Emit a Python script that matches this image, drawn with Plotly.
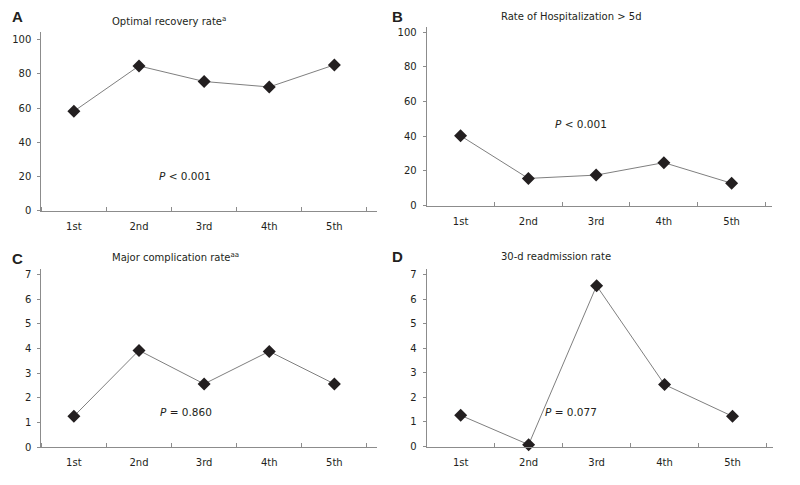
import plotly.graph_objects as go

categories = ["1st", "2nd", "3rd", "4th", "5th"]
optimal_recovery = [58.1, 84.6, 75.5, 72.3, 85.2]
hospitalization_gt5d = [40.3, 15.7, 17.6, 24.8, 12.9]
major_complication = [1.25, 3.92, 2.56, 3.88, 2.56]
readmission_30d = [1.27, 0.08, 6.54, 2.52, 1.23]

panel_letters = ["A", "B", "C", "D"]
panel_titles = ["Optimal recovery rate<sup>a</sup>", "Rate of Hospitalization &gt; 5d",
                "Major complication rate<sup>aa</sup>", "30-d readmission rate"]
p_texts = ["<i>P</i> &lt; 0.001", "<i>P</i> &lt; 0.001", "<i>P</i> = 0.860", "<i>P</i> = 0.077"]
yticks_pct = [0, 20, 40, 60, 80, 100]
yticks_cnt = [0, 1, 2, 3, 4, 5, 6, 7]

W, H = 800, 485
OFF = 8  # page body margin
FONT = "DejaVu Sans"
TXT = "#231f20"
AX = "#8c8c8c"

def px(x):
    return (x - OFF) / W

def py(y):
    return 1 - (y - OFF) / H

panels = [
    dict(y=optimal_recovery, ticks=yticks_pct, yr=[0, 104.2], xd=(41.3, 376.7), yd=(31.7, 212.7), xmax=4.65,
         title=(169.4, 20), letter=(17, 16), p=(185, 177.7)),
    dict(y=hospitalization_gt5d, ticks=yticks_pct, yr=[0, 102.8], xd=(426.7, 772.3), yd=(26.7, 207.5), xmax=4.6,
         title=(570.8, 16), letter=(397, 16), p=(581, 124.3)),
    dict(y=major_complication, ticks=yticks_cnt, yr=[0, 7.2], xd=(41.3, 376.7), yd=(272.3, 452.5), xmax=4.65,
         title=(175, 259.3), letter=(17, 261), p=(185.5, 417.3)),
    dict(y=readmission_30d, ticks=yticks_cnt, yr=[0, 7.2], xd=(426.7, 773.3), yd=(272.3, 452), xmax=4.6,
         title=(556, 259.3), letter=(397, 259), p=(571, 416.7)),
]

fig = go.Figure()
xs = list(range(len(categories)))
annotations = []
for i, pnl in enumerate(panels):
    n = "" if i == 0 else str(i + 1)
    fig.add_trace(go.Scatter(
        x=xs, y=pnl["y"], mode="lines+markers",
        line=dict(color="#7f7f7f", width=1),
        marker=dict(symbol="diamond", size=10, color="#231f20", line=dict(width=0)),
        xaxis="x" + n, yaxis="y" + n, showlegend=False, cliponaxis=False,
    ))
    fig.update_layout(**{
        "xaxis" + n: dict(
            domain=[px(pnl["xd"][0]), px(pnl["xd"][1])], anchor="y" + n,
            range=[-0.5, pnl["xmax"]], tickvals=xs, ticktext=categories, ticks="",
            showline=True, linecolor=AX, linewidth=1, showgrid=False, zeroline=False,
            minor=dict(tickvals=[k - 0.5 for k in range(len(categories) + 1)], ticks="inside",
                       ticklen=4, tickcolor=AX, tickwidth=1, showgrid=False),
            tickfont=dict(family=FONT, size=10, color=TXT), ticklabelstandoff=6, fixedrange=True,
        ),
        "yaxis" + n: dict(
            domain=[py(pnl["yd"][1]), py(pnl["yd"][0])], anchor="x" + n,
            range=pnl["yr"], tickvals=pnl["ticks"], ticks="outside", ticklen=3, tickcolor=AX,
            showline=True, linecolor=AX, linewidth=1, showgrid=False, zeroline=False,
            tickfont=dict(family=FONT, size=10, color=TXT), ticklabelstandoff=4, fixedrange=True,
        ),
    })
    annotations.append(dict(text=panel_titles[i], x=px(pnl["title"][0]), y=py(pnl["title"][1]),
                            xref="paper", yref="paper", showarrow=False, xanchor="center", yanchor="middle",
                            font=dict(family=FONT, size=10, color=TXT)))
    annotations.append(dict(text="<b>" + panel_letters[i] + "</b>", x=px(pnl["letter"][0]), y=py(pnl["letter"][1]),
                            xref="paper", yref="paper", showarrow=False, xanchor="center", yanchor="middle",
                            font=dict(family="Liberation Sans", size=15, color=TXT)))
    annotations.append(dict(text=p_texts[i], x=px(pnl["p"][0]), y=py(pnl["p"][1]),
                            xref="paper", yref="paper", showarrow=False, xanchor="center", yanchor="middle",
                            font=dict(family=FONT, size=10.5, color=TXT)))

fig.update_layout(
    width=W, height=H, margin=dict(l=0, r=0, t=0, b=0),
    paper_bgcolor="white", plot_bgcolor="white",
    annotations=annotations, showlegend=False,
)
fig.write_html("out.html")
